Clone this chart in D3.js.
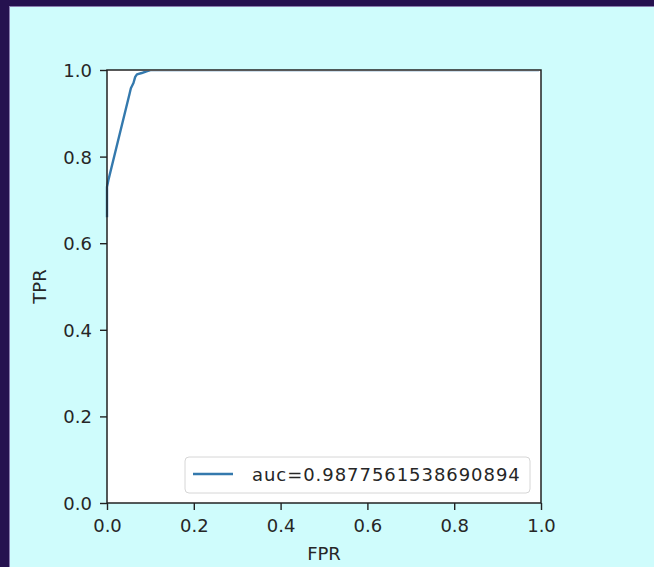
<!DOCTYPE html>
<html>
<head>
<meta charset="utf-8">
<script src="https://cdn.jsdelivr.net/npm/d3@7"></script>
<style>
  html, body { margin: 0; padding: 0; overflow: hidden; background: #25114f; }
  svg { display: block; }
  text { font-family: "DejaVu Sans", sans-serif; fill: #262626; }
</style>
</head>
<body>
<script>
// roc curve points
const fpr = [0, 0, 0.003, 0.052, 0.055, 0.061, 0.065, 0.069, 0.08, 0.091, 0.1, 1.0]
const tpr = [0.66, 0.73, 0.745, 0.945, 0.958, 0.97, 0.984, 0.99, 0.993, 0.997, 1.0, 1.0]
const aucLabel = "auc=0.9877561538690894"
const ticks = [0, 0.2, 0.4, 0.6, 0.8, 1.0]

const w = 654
const h = 567
const pLeft = 107, pRight = 541, pTop = 70, pBottom = 503
const fs = 18

const svg = d3.select("body")
              .append("svg")
              .attr("width", w)
              .attr("height", h)

// screenshot frame
svg.append("rect").attr("width", w).attr("height", h).attr("fill", "#25114f")
svg.append("rect")
   .attr("x", 9.5).attr("y", 6.5)
   .attr("width", w).attr("height", h)
   .attr("fill", "#cffcfc")
   .attr("stroke", "#8a7fb0")
   .attr("stroke-width", 1)

const x = d3.scaleLinear().domain([0, 1]).range([pLeft, pRight])
const y = d3.scaleLinear().domain([0, 1]).range([pBottom, pTop])

svg.append("rect")
   .attr("x", pLeft).attr("y", pTop)
   .attr("width", pRight - pLeft).attr("height", pBottom - pTop)
   .attr("fill", "#ffffff")

// keep the curve from painting over the top spine
svg.append("clipPath")
   .attr("id", "plotclip")
   .append("rect")
   .attr("x", pLeft - 2).attr("y", pTop + 1)
   .attr("width", pRight - pLeft).attr("height", pBottom - pTop)

const pts = fpr.map((f, i) => [f, tpr[i]])
const line = d3.line().x((d) => x(d[0])).y((d) => y(d[1]))

svg.append("path")
   .datum(pts)
   .attr("d", line)
   .attr("clip-path", "url(#plotclip)")
   .attr("fill", "none")
   .attr("stroke", "#3479ad")
   .attr("stroke-width", 2.4)
   .attr("stroke-linejoin", "round")

// axes
const fmt = d3.format(".1f")
const xAxis = svg.append("g")
                 .attr("transform", "translate(0," + pBottom + ")")
                 .call(d3.axisBottom(x).tickValues(ticks).tickFormat(fmt).tickSize(7))
const yAxis = svg.append("g")
                 .attr("transform", "translate(" + pLeft + ",0)")
                 .call(d3.axisLeft(y).tickValues(ticks).tickFormat(fmt).tickSize(7).tickPadding(8))

;[xAxis, yAxis].forEach((g) => {
    g.select(".domain").remove()
    g.selectAll(".tick line").attr("stroke", "#222").attr("stroke-width", 1.4)
    g.selectAll(".tick text").attr("font-size", fs).attr("fill", "#333")
})
xAxis.selectAll(".tick text").attr("y", 29).attr("dy", null)
yAxis.selectAll(".tick text").attr("dy", "0.36em")

svg.append("rect")
   .attr("x", pLeft).attr("y", pTop)
   .attr("width", pRight - pLeft).attr("height", pBottom - pTop)
   .attr("fill", "none")
   .attr("stroke", "#222")
   .attr("stroke-width", 1.5)

svg.append("text")
   .text("FPR")
   .attr("x", (pLeft + pRight) / 2)
   .attr("y", 560)
   .attr("text-anchor", "middle")
   .attr("font-size", fs)
   .attr("fill", "#333")

svg.append("text")
   .text("TPR")
   .attr("transform", "translate(46," + (pTop + pBottom) / 2 + ") rotate(-90)")
   .attr("text-anchor", "middle")
   .attr("font-size", fs)
   .attr("fill", "#333")

// legend
const lg = svg.append("g").attr("transform", "translate(185,457)")
lg.append("rect")
  .attr("width", 345).attr("height", 36)
  .attr("rx", 4)
  .attr("fill", "#ffffff").attr("fill-opacity", 0.8)
  .attr("stroke", "#d6d6d6")
lg.append("line")
  .attr("x1", 8).attr("x2", 48)
  .attr("y1", 17).attr("y2", 17)
  .attr("stroke", "#3479ad")
  .attr("stroke-width", 2.4)
lg.append("text")
  .text(aucLabel)
  .attr("x", 67)
  .attr("y", 24)
  .attr("font-size", fs)
  .attr("letter-spacing", 0.95)
  .attr("fill", "#333")
</script>
</body>
</html>
